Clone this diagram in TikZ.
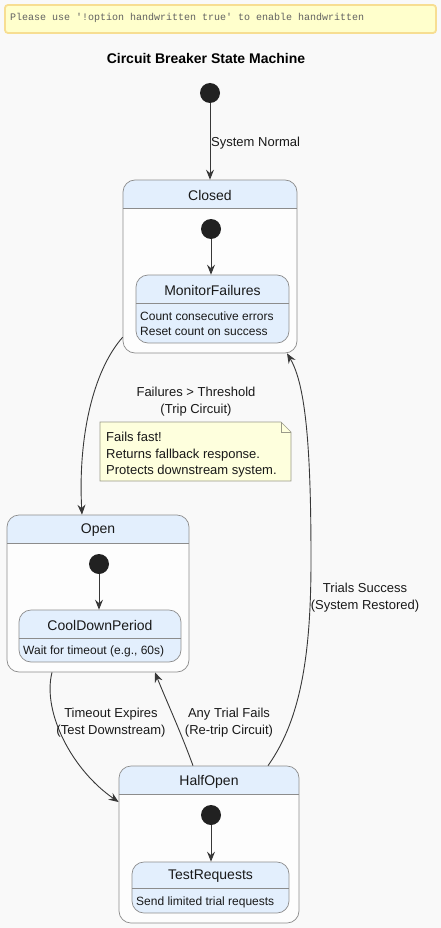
\documentclass[tikz,border=0pt]{standalone}
\usepackage{fontspec}
\setmainfont{Liberation Sans}
\newfontfamily\monof{Liberation Mono}
\usetikzlibrary{arrows.meta,fit,calc}
\definecolor{bgc}{HTML}{F9F9F9}
\definecolor{hdrc}{HTML}{E3EFFD}
\definecolor{bodyc}{HTML}{FDFDFD}
\definecolor{linec}{HTML}{8C8C8C}
\definecolor{edgec}{HTML}{383838}
\definecolor{notec}{HTML}{FEFFDD}
\definecolor{noteb}{HTML}{9A9A8A}
\definecolor{banf}{HTML}{FFFFCC}
\definecolor{banb}{HTML}{F7DE92}
\tikzset{
  edge/.style={draw=edgec, line width=0.9pt, -{Stealth[length=10pt,width=8pt,inset=3.5pt]}},
  initc/.style={circle, fill=black!87, minimum size=20pt, inner sep=0pt},
  ttl/.style={font=\fontsize{14}{16}\selectfont, text=black!90, inner sep=0pt},
  desc/.style={font=\fontsize{12}{15}\selectfont, text=black!90, inner sep=0pt, anchor=west, align=left},
  lbl/.style={font=\fontsize{13}{17}\selectfont, text=black!90, align=center, inner sep=1pt},
}
\newcommand{\mystate}[8]{%
  \begin{scope}
    \clip[rounded corners=12pt] (#2,#3) rectangle (#4,#5);
    \fill[#8] (#2,#3) rectangle (#4,#5);
    \fill[hdrc] (#2,#3) rectangle (#4,#6);
  \end{scope}
  \draw[linec, line width=0.7pt] (#2,#6) -- (#4,#6);
  \node[draw=linec, line width=0.7pt, rounded corners=12pt, fit={(#2,#3) (#4,#5)}, inner sep=0pt] (#1) {};
  \node[ttl] (#1-t) at ({(#2+#4)/2},{(#3+#6)/2+1.5}) {#7};
}
\begin{document}
\begin{tikzpicture}[x=1pt,y=-1pt]
\fill[bgc] (0,0) rectangle (441,928);
\useasboundingbox (0,0) rectangle (441,928);
% banner
\node[draw=banb, line width=1.8pt, fill=banf, rounded corners=3pt, minimum width=431pt, minimum height=28pt, inner sep=0pt] (banner) at (220.5,19) {};
\node[anchor=west, inner sep=0pt, font=\monof\fontsize{10}{12}\selectfont, text=black!62] (bantext) at (10,18) {Please use '!option handwritten true' to enable handwritten};
% title
\node[font=\bfseries\fontsize{14}{16}\selectfont, inner sep=0pt] (title) at (206,58) {Circuit Breaker State Machine};

% states
\mystate{closed}{123}{180}{297}{353}{208}{Closed}{bodyc}
\mystate{mf}{136}{275}{289}{343}{303}{MonitorFailures}{hdrc}
\node[desc] (mfd1) at (140,316) {Count consecutive errors};
\node[desc] (mfd2) at (140,331) {Reset count on success};

\mystate{open}{7}{515}{189}{672}{543}{Open}{bodyc}
\mystate{cd}{19}{610}{181}{662}{638}{CoolDownPeriod}{hdrc}
\node[desc] (cdd) at (23,651) {Wait for timeout (e.g., 60s)};

\mystate{ho}{119}{766}{299}{923}{794}{HalfOpen}{bodyc}
\mystate{tr}{132}{862}{289}{913}{888}{TestRequests}{hdrc}
\node[desc] (trd) at (136,902) {Send limited trial requests};

% initial states
\node[initc] (i0) at (210,93) {};
\node[initc] (i1) at (211,229) {};
\node[initc] (i2) at (99,564) {};
\node[initc] (i3) at (211,815) {};

\draw[edge] (i0) -- (i0 |- closed.north);
\draw[edge] (i1) -- (i1 |- mf.north);
\draw[edge] (i2) -- (i2 |- cd.north);
\draw[edge] (i3) -- (i3 |- tr.north);

\node[lbl, anchor=west] (l0) at (210,143) {System Normal};

% note
\path (100,422) coordinate (n1) (291,481) coordinate (n2);
\draw[noteb, fill=notec, line width=0.7pt] (100,422) -- (281,422) -- (291,432) -- (291,481) -- (100,481) -- cycle;
\draw[noteb, line width=0.7pt] (281,422) -- (281,432) -- (291,432);
\node[fit=(n1)(n2), inner sep=0pt] (note) {};
\node[desc, font=\fontsize{13}{16.5}\selectfont, anchor=north west] (notet) at (106,432) {Fails fast!\\Returns fallback response.\\Protects downstream system.};

% transitions
\draw[edge] (closed.219) .. controls (92,372) and (78,440) .. ([xshift=-16pt]open.north);
\node[lbl] (l1) at (196,402) {Failures > Threshold\\(Trip Circuit)};

\draw[edge] ([xshift=-46pt]open.south) .. controls (42,712) and (72,770) .. ([yshift=42.5pt]ho.west);
\node[lbl] (l2) at (111,723) {Timeout Expires\\(Test Downstream)};

\draw[edge] ([xshift=-16pt]ho.north) .. controls (180,730) and (166,700) .. ([xshift=57pt]open.south);
\node[lbl] (l3) at (229,723) {Any Trial Fails\\(Re-trip Circuit)};

\draw[edge] ([xshift=59pt]ho.north) .. controls (302,718) and (311,650) .. (311,560) .. controls (311,450) and (306,385) .. ([xshift=77pt]closed.south);
\node[lbl] (l4) at (365,598) {Trials Success\\(System Restored)};
\end{tikzpicture}
\end{document}
